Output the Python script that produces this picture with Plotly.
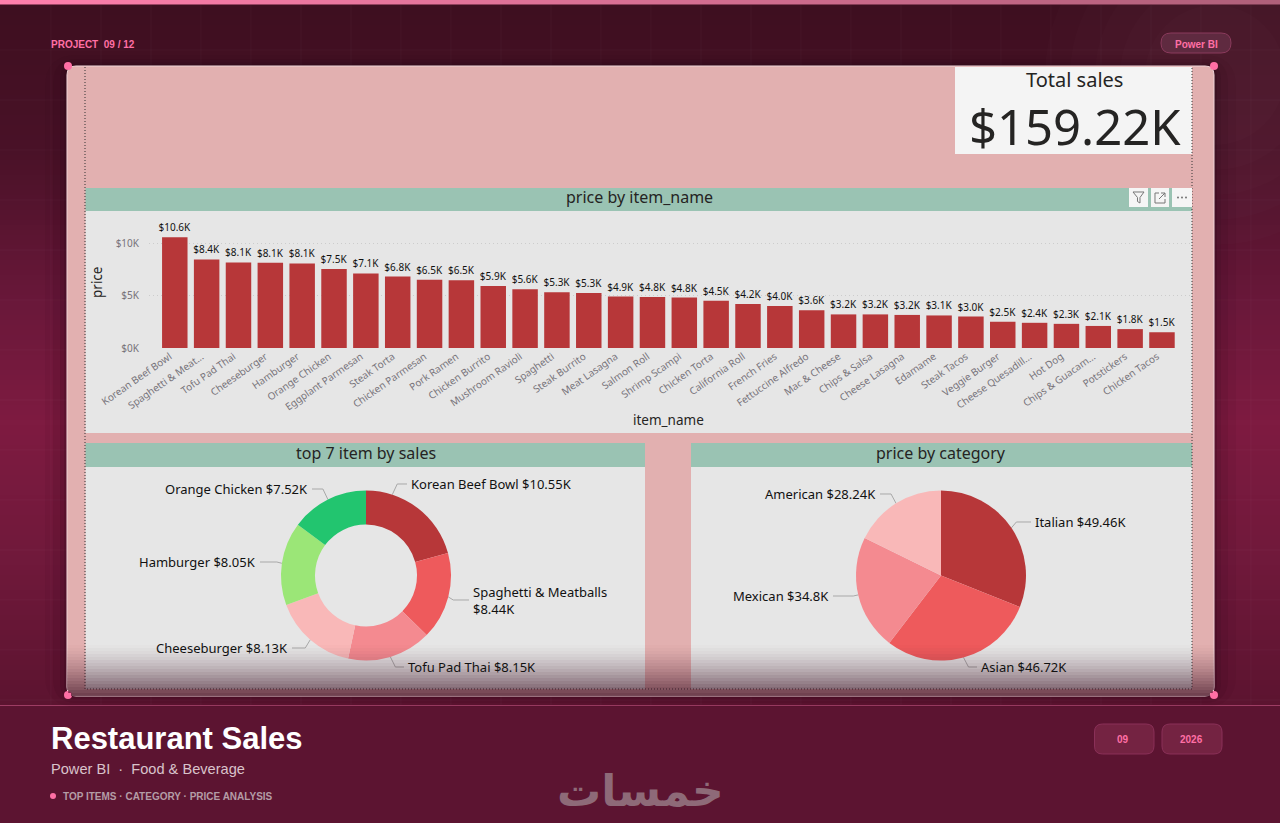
import math

import plotly.graph_objects as go

W, H = 1280, 823

# data
items = ['Korean Beef Bowl', 'Spaghetti & Meat...', 'Tofu Pad Thai', 'Cheeseburger', 'Hamburger', 'Orange Chicken',
         'Eggplant Parmesan', 'Steak Torta', 'Chicken Parmesan', 'Pork Ramen', 'Chicken Burrito', 'Mushroom Ravioli',
         'Spaghetti', 'Steak Burrito', 'Meat Lasagna', 'Salmon Roll', 'Shrimp Scampi', 'Chicken Torta',
         'California Roll', 'French Fries', 'Fettuccine Alfredo', 'Mac & Cheese', 'Chips & Salsa', 'Cheese Lasagna',
         'Edamame', 'Steak Tacos', 'Veggie Burger', 'Cheese Quesadill...', 'Hot Dog', 'Chips & Guacam...',
         'Potstickers', 'Chicken Tacos']
item_sales = [10.55, 8.44, 8.15, 8.13, 8.05, 7.52, 7.1, 6.8, 6.5, 6.45, 5.9, 5.6, 5.3, 5.25, 4.9, 4.85, 4.8, 4.5,
              4.2, 4.0, 3.6, 3.2, 3.2, 3.15, 3.1, 3.0, 2.5, 2.4, 2.3, 2.1, 1.8, 1.5]
item_labels = ['$10.6K', '$8.4K', '$8.1K', '$8.1K', '$8.1K', '$7.5K', '$7.1K', '$6.8K', '$6.5K', '$6.5K', '$5.9K',
               '$5.6K', '$5.3K', '$5.3K', '$4.9K', '$4.8K', '$4.8K', '$4.5K', '$4.2K', '$4.0K', '$3.6K', '$3.2K',
               '$3.2K', '$3.2K', '$3.1K', '$3.0K', '$2.5K', '$2.4K', '$2.3K', '$2.1K', '$1.8K', '$1.5K']
y_ticks = [0, 5, 10]
y_tick_labels = ['$0K', '$5K', '$10K']

top_names = ['Korean Beef Bowl', 'Spaghetti & Meatballs', 'Tofu Pad Thai', 'Cheeseburger', 'Hamburger',
             'Orange Chicken']
top_values = [10.55, 8.44, 8.15, 8.13, 8.05, 7.52]
top_labels = ['Korean Beef Bowl $10.55K', 'Spaghetti & Meatballs<br>$8.44K', 'Tofu Pad Thai $8.15K',
              'Cheeseburger $8.13K', 'Hamburger $8.05K', 'Orange Chicken $7.52K']

category_names = ['Italian', 'Asian', 'Mexican', 'American']
category_values = [49.46, 46.72, 34.8, 28.24]
category_labels = ['Italian $49.46K', 'Asian $46.72K', 'Mexican $34.8K', 'American $28.24K']

RED = '#B73739'
PIE_COLORS = [RED, '#EE5A5C', '#F48A90', '#F9B8B8', '#9BE677', '#22C56F']
PINK = '#FF6FA5'
TEAL = '#9AC3B3'
PANEL = '#E6E6E6'
CARD = '#E2B0B0'
BI_FONT = 'Noto Sans'
WEB_FONT = 'Liberation Sans'

shapes = []
annotations = []


def fx(x):
    return x / W


def fy(y):
    return 1 - y / H


def rect(x0, y0, x1, y1, fill, layer='below', line=None):
    shapes.append(dict(type='rect', xref='paper', yref='paper', layer=layer, x0=fx(x0), x1=fx(x1), y0=fy(y0),
                       y1=fy(y1), fillcolor=fill, line=line or dict(width=0)))


def round_rect(x0, y0, x1, y1, r, fill, line=None):
    # path in paper fractions, the corners are quadratic curves
    pts = [('M', x0 + r, y0), ('L', x1 - r, y0), ('Q', x1, y0, x1, y0 + r), ('L', x1, y1 - r),
           ('Q', x1, y1, x1 - r, y1), ('L', x0 + r, y1), ('Q', x0, y1, x0, y1 - r), ('L', x0, y0 + r),
           ('Q', x0, y0, x0 + r, y0)]
    path = ''
    for p in pts:
        coords = p[1:]
        path += p[0] + ' ' + ' '.join(f'{fx(coords[i]):.5f},{fy(coords[i + 1]):.5f}' for i in range(0, len(coords), 2)) + ' '
    shapes.append(dict(type='path', xref='paper', yref='paper', layer='below', path=path + 'Z', fillcolor=fill,
                       line=line or dict(width=0)))


def seg(points, color, width=1, dash='solid', layer='below'):
    path = 'M ' + ' L '.join(f'{fx(x):.5f},{fy(y):.5f}' for x, y in points)
    shapes.append(dict(type='path', xref='paper', yref='paper', layer=layer, path=path,
                       line=dict(color=color, width=width, dash=dash)))


def dot(x, y, r, color):
    shapes.append(dict(type='circle', xref='paper', yref='paper', layer='below', x0=fx(x - r), x1=fx(x + r),
                       y0=fy(y - r), y1=fy(y + r), fillcolor=color, line=dict(width=0)))


def label(x, y, text, size, color, font=BI_FONT, anchor='center', bold=False, angle=0):
    annotations.append(dict(xref='paper', yref='paper', x=fx(x), y=fy(y), text=f'<b>{text}</b>' if bold else text,
                            showarrow=False, xanchor=anchor, yanchor='middle', textangle=angle, align='left',
                            borderpad=0, font=dict(family=font, size=size, color=color)))


def mix(a, b, t):
    return tuple(a[i] + (b[i] - a[i]) * t for i in range(3))


def hex_rgb(c):
    return f'rgb({int(c[0])},{int(c[1])},{int(c[2])})'


# page background, vertical gradient as thin strips
stops = [(0, (62, 15, 32)), (150, (74, 18, 40)), (300, (106, 24, 58)), (420, (126, 27, 65)), (560, (112, 25, 59)),
         (705, (92, 20, 48))]
for y in range(0, 705, 5):
    for (y0, c0), (y1, c1) in zip(stops, stops[1:]):
        if y0 <= y < y1:
            rect(0, y, W, y + 5, hex_rgb(mix(c0, c1, (y - y0) / (y1 - y0))))
rect(0, 705, W, H, '#5C1431')
# soft lighter glow top right
for r in (170, 145, 120, 95, 70):
    dot(1215, 75, r, 'rgba(255,255,255,0.011)')
# faint grid
for x in range(51, W, 50):
    seg([(x, 5), (x, 705)], 'rgba(255,255,255,0.03)')
for y in range(50, 705, 50):
    seg([(0, y), (W, y)], 'rgba(255,255,255,0.03)')
# top strip fading to the right
for i in range(64):
    rect(i * 20, 0, (i + 1) * 20, 4.5, hex_rgb(mix((255, 127, 172), (176, 96, 122), i / 63)))
seg([(0, 705.5), (W, 705.5)], '#9E3D64')

# card with its shadow
for grow, alpha in [(22, 0.05), (14, 0.07), (7, 0.1), (3, 0.14)]:
    round_rect(67 - grow, 66 - grow / 2, 1214 + grow, 696 + grow / 2, 10 + grow, f'rgba(30,5,15,{alpha})')
round_rect(67, 66, 1214, 696, 9, CARD, line=dict(color='#F0D5D8', width=1))
rect(955, 67, 1192, 154, '#F4F4F4')

# panels
rect(85.5, 188, 1192, 211, TEAL)
rect(85.5, 211, 1192, 433, PANEL)
rect(85.5, 443, 645, 467, TEAL)
rect(85.5, 467, 645, 689, PANEL)
rect(691, 443, 1192, 467, TEAL)
rect(691, 467, 1192, 689, PANEL)

# dotted selection frame
seg([(85, 67), (85, 689), (1192, 689), (1192, 67)], '#333333', 1, '1px,2px')

# header icons
for x0, x1 in [(1129, 1148), (1151, 1169), (1172, 1192)]:
    rect(x0, 188, x1, 207, '#F5F5F5')
seg([(1133, 192), (1144, 192), (1140, 197.5), (1140, 203), (1137.5, 201.5), (1137.5, 197.5), (1133, 192)], '#777777')
seg([(1159, 193), (1155, 193), (1155, 203), (1165, 203), (1165, 199)], '#777777')
seg([(1159, 199), (1165, 193), (1161, 193)], '#777777')
seg([(1165, 193), (1165, 197)], '#777777')
for x in (1178, 1182, 1186):
    dot(x, 197.5, 0.9, '#666666')

# corner dots
for x, y in [(68, 66), (1214, 66), (68, 695), (1214, 695)]:
    dot(x, y, 4, PINK)

# pills
round_rect(1161, 33, 1231, 53, 10, '#5F2A40', line=dict(color='#8A3A5C', width=1))
round_rect(1094.5, 724, 1154, 754, 8, '#742342', line=dict(color='#8A3058', width=1))
round_rect(1162, 724, 1222, 754, 8, '#742342', line=dict(color='#8A3058', width=1))
dot(53, 796, 3, PINK)

# page texts
label(50, 44, 'PROJECT  09 / 12', 10, PINK, WEB_FONT, 'left', True)
label(1196, 44, 'Power BI', 10, PINK, WEB_FONT, bold=True)
label(1123, 739, '09', 10, PINK, WEB_FONT, bold=True)
label(1191, 739, '2026', 10, PINK, WEB_FONT, bold=True)
label(50, 738, 'Restaurant Sales', 31, '#FFFFFF', WEB_FONT, 'left', True)
label(50, 769, 'Power BI  ·  Food &amp; Beverage', 14.6, '#D9C3CB', WEB_FONT, 'left')
label(62, 796, 'TOP ITEMS · CATEGORY · PRICE ANALYSIS', 10, '#B49CA6', WEB_FONT, 'left', True)
label(640, 790, 'خمسات', 44, '#8E6A78', 'DejaVu Sans', bold=True)

# report texts
label(1074, 79, 'Total sales', 20, '#252423')
label(1075, 126, '$159.22K', 49, '#252423')
label(639, 197, 'price by item_name', 16, '#252423')
label(366, 453, 'top 7 item by sales', 16, '#252423')
label(941, 453, 'price by category', 16, '#252423')
label(668, 420, 'item_name', 13.5, '#252423')
label(97, 283, 'price', 13.5, '#252423', angle=-90)


def pie_labels(values, texts, cx, cy, r, spots, angle_fix=None):
    # leader starts on the slice middle, Power BI moves a few of them
    total = sum(values)
    run = 0
    for i, value in enumerate(values):
        theta = 2 * math.pi * (run + value / 2) / total
        run += value
        if angle_fix and i in angle_fix:
            theta = math.radians(angle_fix[i])
        ax, ay = cx + r * math.sin(theta), cy - r * math.cos(theta)
        tx, ty, side = spots[i]
        sign = 1 if side == 'left' else -1
        ex = ax + sign * 5
        seg([(ax, ay), (ex, ty), (tx - sign * 3, ty)], '#A8A8A8')
        label(tx, ty, texts[i], 13, '#111111', anchor=side)


pie_labels(top_values, top_labels, 366, 575.5, 85,
           [(410, 484, 'left'), (472, 600, 'left'), (407, 667, 'left'), (289, 648, 'right'), (257, 562, 'right'),
            (309, 489, 'right')], angle_fix={0: 18})
pie_labels(category_values, category_labels, 941, 575.5, 85,
           [(1034, 522, 'left'), (980, 667, 'left'), (830, 596, 'right'), (877, 494, 'right')])

# fade at the bottom of the card, goes over the pies
for y in range(642, 696, 3):
    t = (y - 642) / 53
    inset = 0 if y < 687 else 9 - math.sqrt(max(81 - (y + 1.5 - 687) ** 2, 0))
    rect(67 + inset, y, 1214 - inset, y + 3, f'rgba(60,15,35,{0.72 * t ** 1.4:.3f})', layer='above')

fig = go.Figure()
fig.add_trace(go.Bar(x=items, y=item_sales, text=item_labels, textposition='outside', cliponaxis=False,
                     constraintext='none', textangle=0, marker=dict(color=RED, line=dict(width=0)),
                     textfont=dict(family=BI_FONT, size=10, color='#111111')))
fig.add_trace(go.Pie(labels=top_names, values=top_values, hole=0.6, sort=False, direction='clockwise',
                     textinfo='none', marker=dict(colors=PIE_COLORS, line=dict(width=0)), showlegend=False,
                     domain=dict(x=[fx(281), fx(451)], y=[fy(660.5), fy(490.5)])))
fig.add_trace(go.Pie(labels=category_names, values=category_values, sort=False, direction='clockwise',
                     textinfo='none', marker=dict(colors=PIE_COLORS, line=dict(width=0)), showlegend=False,
                     domain=dict(x=[fx(856), fx(1026)], y=[fy(660.5), fy(490.5)])))

fig.update_layout(
    width=W, height=H, margin=dict(l=0, r=0, t=0, b=0), paper_bgcolor='#5C1431', plot_bgcolor='rgba(0,0,0,0)',
    showlegend=False, bargap=0.2, shapes=shapes, annotations=annotations,
    xaxis=dict(domain=[fx(149), fx(1190)], range=[-0.81, 31.88], type='category', tickangle=-35, showgrid=False,
               zeroline=False, ticks='', ticklabeloverflow='allow', automargin=False, ticklabelshift=-5,
               tickfont=dict(family=BI_FONT, size=10, color='#77737A')),
    yaxis=dict(domain=[fy(348), fy(222)], range=[0, 12], tickvals=y_ticks, ticktext=y_tick_labels, zeroline=False,
               showgrid=True, gridcolor='#CCCCCC', griddash='1px,3px', gridwidth=1, ticks='outside', ticklen=7,
               tickcolor='rgba(0,0,0,0)', automargin=False,
               tickfont=dict(family=BI_FONT, size=10, color='#77737A')),
)

fig.write_html('out.html', config=dict(displayModeBar=False),
               post_script="document.body.style.margin='0';document.body.style.overflow='hidden';")
